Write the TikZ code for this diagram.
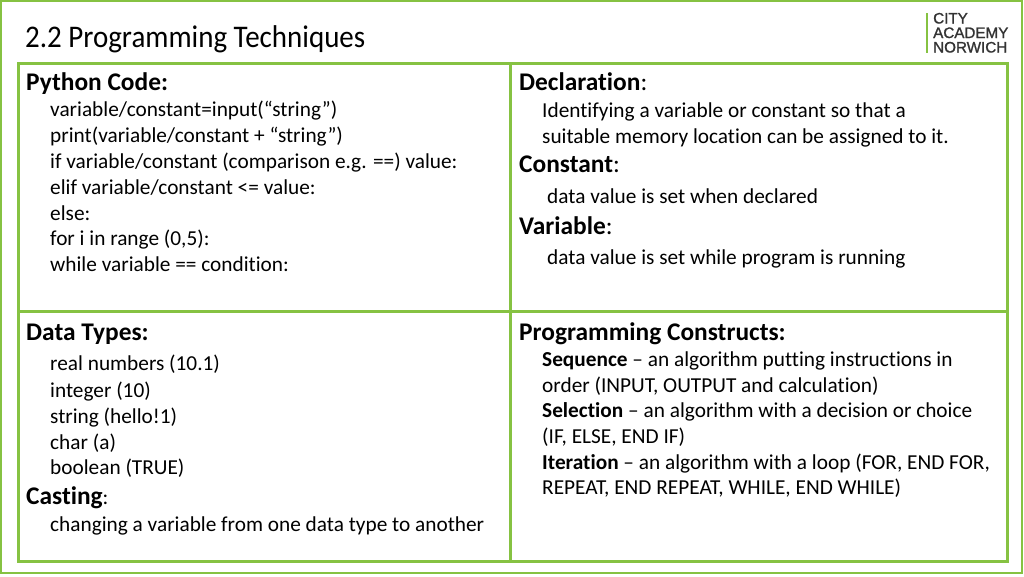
\documentclass[tikz,border=0pt]{standalone}
\usepackage{fontspec}
\setmainfont[Ligatures=CommonOff]{Carlito}
\newfontfamily\logofont[FakeBold=1.2]{Liberation Sans}
\newfontfamily\titlefont[Ligatures=CommonOff,FakeStretch=0.92]{Carlito}
\definecolor{framegreen}{RGB}{134,194,66}
\tikzset{
  heading/.style={anchor=base west,inner sep=0pt,font=\fontsize{25.4}{25.4}\selectfont},
  body/.style={anchor=base west,inner sep=0pt,font=\fontsize{21.3}{21.3}\selectfont},
  logotext/.style={anchor=base west,inner sep=0pt,font=\logofont\fontsize{15.2}{15.2}\selectfont,text=black!80}
}
\begin{document}
\begin{tikzpicture}[x=1pt,y=-1pt]
      \useasboundingbox (0,0) rectangle (1024,576);
      \fill[white] (0,0) rectangle (1024,576);
      % frames
      \draw[framegreen,line width=2.5pt] (1,1) rectangle (1022,573);
      \draw[framegreen,line width=3pt] (18,63) rectangle (1007,561);
      \draw[framegreen,line width=3pt] (510,63)--(510,561);
      \draw[framegreen,line width=3pt] (18,311)--(1007,311);
      % logo
      \draw[framegreen,line width=1.5pt] (927,13)--(927,53);
      \node[logotext] (logoa) at (933,23.5) {CITY};
      \node[logotext] (logob) at (933,38) {ACADEMY};
      \node[logotext] (logoc) at (933,52.5) {NORWICH};
      % title
      \node[anchor=base west,inner sep=0pt,font=\titlefont\fontsize{31.5}{31.5}\selectfont] (title) at (25,47) {2.2 Programming Techniques};
      % top left
      \node[heading] (python) at (26,90) {\textbf{Python Code:}};
      \node[body] (pya) at (50,116) {variable/constant=input(“string”)};
      \node[body] (pyb) at (50,142) {print(variable/constant + “string”)};
      \node[body] (pyc) at (50,168) {if variable/constant (comparison e.g. ==) value:};
      \node[body] (pyd) at (50,194) {elif variable/constant <= value:};
      \node[body] (pye) at (50,220) {else:};
      \node[body] (pyf) at (50,245) {for i in range (0,5):};
      \node[body] (pyg) at (50,271) {while variable == condition:};
      % top right
      \node[heading] (declaration) at (519,90) {\textbf{Declaration}:};
      \node[body] (decla) at (542,117) {Identifying a variable or constant so that a};
      \node[body] (declb) at (542,143) {suitable memory location can be assigned to it.};
      \node[heading] (constant) at (519,172) {\textbf{Constant}:};
      \node[body] (consta) at (547,203) {data value is set when declared};
      \node[heading] (variable) at (519,234) {\textbf{Variable}:};
      \node[body] (vara) at (547,264) {data value is set while program is running};
      % bottom left
      \node[heading] (datatypes) at (26,340) {\textbf{Data Types:}};
      \node[body] (typea) at (50,370) {real numbers (10.1)};
      \node[body] (typeb) at (50,397) {integer (10)};
      \node[body] (typec) at (50,423) {string (hello!1)};
      \node[body] (typed) at (50,449) {char (a)};
      \node[body] (typee) at (50,474) {boolean (TRUE)};
      \node[heading] (casting) at (26,504) {\textbf{Casting}{\fontsize{21.3}{21.3}\selectfont:}};
      \node[body] (casta) at (50,531) {changing a variable from one data type to another};
      % bottom right
      \node[heading] (constructs) at (519,340) {\textbf{Programming Constructs:}};
      \node[body] (consa) at (542,366) {\textbf{Sequence} – an algorithm putting instructions in};
      \node[body] (consb) at (542,392) {order (INPUT, OUTPUT and calculation)};
      \node[body] (consc) at (542,417) {\textbf{Selection} – an algorithm with a decision or choice};
      \node[body] (consd) at (542,443) {(IF, ELSE, END IF)};
      \node[body] (conse) at (542,469) {\textbf{Iteration} – an algorithm with a loop (FOR, END FOR,};
      \node[body] (consf) at (542,494) {REPEAT, END REPEAT, WHILE, END WHILE)};
    \end{tikzpicture}
\end{document}
